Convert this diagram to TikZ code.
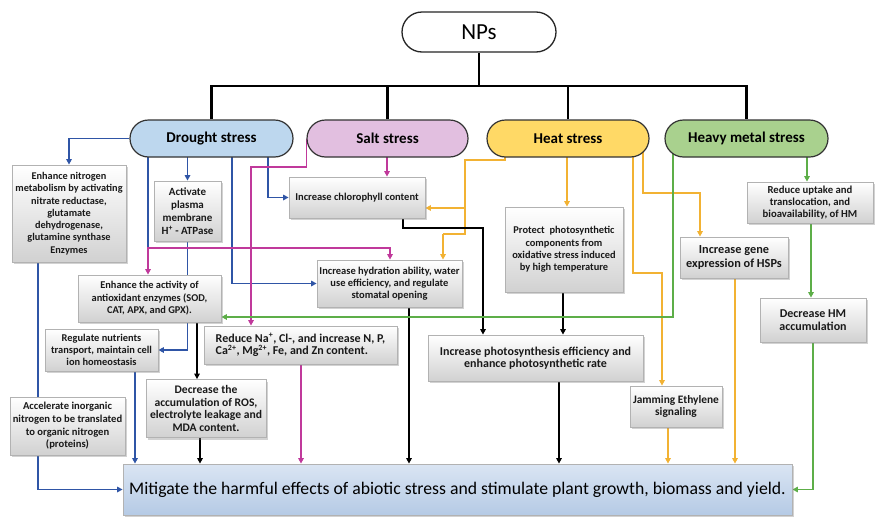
\documentclass[tikz,border=0pt]{standalone}
\usepackage{fontspec}
\setmainfont{Carlito}
\usetikzlibrary{arrows.meta,shadows,backgrounds}

\definecolor{lblue}{HTML}{2F55A6}
\definecolor{lpink}{HTML}{C0399B}
\definecolor{lorange}{HTML}{F2B233}
\definecolor{lgreen}{HTML}{5DAE48}
\definecolor{fdrought}{HTML}{BDD7EE}
\definecolor{fsalt}{HTML}{E2BFE0}
\definecolor{fheat}{HTML}{FFD966}
\definecolor{fhm}{HTML}{A9D18E}
\definecolor{mtop}{HTML}{DAE5F3}
\definecolor{mbot}{HTML}{B5CAE5}

\tikzset{
  npsbox/.style={draw=black!85, line width=1.3pt, fill=white, rounded corners=20pt,
    minimum width=154pt, minimum height=40pt, inner sep=0pt,
    font=\fontsize{23}{25}\selectfont},
  pill/.style={draw=black!80, line width=1.2pt, rounded corners=18.5pt,
    minimum height=37pt, inner sep=0pt,
    font=\fontsize{15}{17}\selectfont\bfseries},
  infobox/.style={draw=black!30, line width=0.8pt, top color=white, bottom color=black!18,
    drop shadow={shadow xshift=2pt, shadow yshift=-2pt, opacity=0.35},
    inner sep=1pt, align=center, text=black!90},
  fs/.style 2 args={font=\fontsize{#1}{#2}\selectfont\bfseries},
  mainbox/.style={draw=black!30, line width=0.8pt, top color=mtop, bottom color=mbot,
    drop shadow={shadow xshift=2pt, shadow yshift=-2pt, opacity=0.35},
    inner sep=0pt, font=\fontsize{17.7}{20}\selectfont},
  tip/.style={-{Triangle[length=5.5pt,width=5.5pt]}},
  tree/.style={line width=2.4pt, black},
  bl/.style={line width=1.8pt, lblue},
  pk/.style={line width=1.8pt, lpink},
  og/.style={line width=1.8pt, lorange},
  gn/.style={line width=1.8pt, lgreen},
  bk/.style={line width=2.1pt, black},
}

\begin{document}
\begin{tikzpicture}[x=1pt,y=-1pt]
\useasboundingbox (0,0) rectangle (884,517);
\begin{pgfonlayer}{background}
  \fill[white] (0,0) rectangle (884,517);
\end{pgfonlayer}

% root and the four stresses
\node[npsbox] (nps) at (479,32) {NPs};
\node[pill, fill=fdrought, minimum width=163pt] (drought) at (211.5,138.5) {Drought stress};
\node[pill, fill=fsalt, minimum width=161pt] (salt) at (387.5,138.5) {Salt stress};
\node[pill, fill=fheat, minimum width=162pt] (heat) at (568,138.5) {Heat stress};
\node[pill, fill=fhm, minimum width=163pt] (hm) at (746.5,138.5) {Heavy metal stress};

% effect boxes
\node[infobox, fs={10.3}{12.3}, minimum width=114pt, minimum height=97pt] (nitro) at (69,213.5)
  {Enhance nitrogen\\metabolism by activating\\nitrate reductase,\\glutamate\\dehydrogenase,\\glutamine synthase\\Enzymes};
\node[infobox, fs={11}{13}, minimum width=67pt, minimum height=60pt] (activ) at (187.5,211)
  {Activate\\plasma\\membrane\\H\textsuperscript{+} - ATPase};
\node[infobox, fs={10.5}{12.3}, minimum width=136pt, minimum height=41pt] (chloro) at (357,197.5)
  {Increase chlorophyll content};
\node[infobox, fs={10.5}{12.2}, minimum width=145pt, minimum height=47pt] (hydra) at (389.5,283.5)
  {Increase hydration ability, water\\use efficiency, and regulate\\stomatal opening};
\node[infobox, fs={10.4}{12.3}, minimum width=118pt, minimum height=85pt] (protect) at (564,249.5)
  {Protect\ \ photosynthetic\\components from\\oxidative stress induced\\by high temperature};
\node[infobox, fs={12.3}{13.3}, minimum width=108pt, minimum height=41pt] (hsp) at (734,257.5)
  {Increase gene\\expression of HSPs};
\node[infobox, fs={10.7}{12.3}, minimum width=126pt, minimum height=41pt] (uptake) at (810,202.5)
  {Reduce uptake and\\translocation, and\\bioavailability, of HM};
\node[infobox, fs={12}{13.3}, minimum width=106pt, minimum height=44pt] (dechm) at (813,320)
  {Decrease HM\\accumulation};
\node[infobox, fs={10.4}{12.5}, minimum width=143pt, minimum height=47pt] (antiox) at (149.5,298.5)
  {Enhance the activity of\\antioxidant enzymes (SOD,\\CAT, APX, and GPX).};
\node[infobox, fs={10.4}{12}, minimum width=113pt, minimum height=42pt] (regul) at (101.5,350)
  {Regulate nutrients\\transport, maintain cell\\ion homeostasis};
\node[infobox, fs={12}{12.5}, minimum width=193pt, minimum height=38pt, align=left] (reduce) at (300.5,345)
  {Reduce Na\textsuperscript{+}, Cl-, and increase N, P,\\Ca\textsuperscript{2+}, Mg\textsuperscript{2+}, Fe, and Zn content.};
\node[infobox, fs={11.6}{12.8}, minimum width=120pt, minimum height=58pt] (decros) at (206,408.5)
  {Decrease the\\accumulation of ROS,\\electrolyte leakage and\\MDA content.};
\node[infobox, fs={10.6}{12.7}, minimum width=115pt, minimum height=58pt] (accel) at (67.5,426)
  {Accelerate inorganic\\nitrogen to be translated\\to organic nitrogen\\(proteins)};
\node[infobox, fs={12}{12.5}, minimum width=215pt, minimum height=46pt] (photo) at (535.5,358)
  {Increase photosynthesis efficiency and\\enhance photosynthetic rate};
\node[infobox, fs={11.4}{12.5}, minimum width=92pt, minimum height=41pt] (jam) at (676,406.5)
  {Jamming Ethylene\\signaling};
\node[mainbox, minimum width=669pt, minimum height=51pt] (mitig) at (457.5,489.5)
  {Mitigate the harmful effects of abiotic stress and stimulate plant growth, biomass and yield.};

\begin{pgfonlayer}{background}
% tree from the root
\coordinate (bar) at (479,86);
\draw[tree] (nps.south) -- (nps.south |- bar);
\draw[tree] (drought.north) |- (746.5,86) -- (hm.north);
\draw[tree] (salt.north) -- (salt.north |- bar);
\draw[tree] (heat.north) -- (heat.north |- bar);

% drought stress
\draw[bl,tip] (drought.west) -| (nitro.north);
\draw[bl] (148,0 |- drought.center) -- (148,248);
\draw[bl,tip] (activ.north |- drought.center) -- (activ.north);
\draw[bl,tip] (232,0 |- drought.center) |- (hydra.west);
\draw[bl,tip] (268,0 |- drought.center) |- (chloro.west);
\draw[bl,tip] (activ.south) |- (regul.east);
\draw[bl] (38,0 |- nitro.south) -- (38,0 |- accel.north);
\draw[bl,tip] (38,0 |- accel.south) |- (mitig.west);
\draw[bl,tip] (135,0 |- regul.south) -- (135,0 |- mitig.north);
\draw[bk,tip] (197,0 |- antiox.south) -- (197,0 |- decros.north);
\draw[bk,tip] (200,0 |- decros.south) -- (200,0 |- mitig.north);

% salt stress
\draw[pk,tip] (387,0 |- salt.center) -- (387,0 |- chloro.north);
\draw[pk,tip] (salt.west) |- (251,167) -- (251,0 |- reduce.north);
\coordinate (pj) at (251,248);
\draw[pk,tip] (pj) -| (148,0 |- antiox.north);
\draw[pk,tip] (pj) -| (390,0 |- hydra.north);
\draw[pk,tip] (301,0 |- reduce.south) -- (301,0 |- mitig.north);

% heat stress
\draw[og] (505,0 |- heat.center) |- (465,160) -- (465,234) -- (443,234);
\draw[og,tip] (443,234) -- (443,0 |- hydra.north);
\draw[og,tip] (465,208) -- (chloro.east |- 465,208);
\draw[og,tip] (567,0 |- heat.center) -- (567,0 |- protect.north);
\draw[og,tip] (643,0 |- heat.center) |- (700,193) -- (700,0 |- hsp.north);
\draw[og,tip] (633,0 |- heat.center) |- (662,273) -- (662,0 |- jam.north);
\draw[og,tip] (735,0 |- hsp.south) -- (735,0 |- mitig.north);
\draw[og,tip] (668,0 |- jam.south) -- (668,0 |- mitig.north);

% photosynthesis chain
\draw[bk,tip] (403,0 |- chloro.south) |- (483,228) -- (483,0 |- photo.north);
\draw[bk,tip] (563,0 |- protect.south) -- (563,0 |- photo.north);
\draw[bk,tip] (409,0 |- hydra.south) -- (409,0 |- mitig.north);
\draw[bk,tip] (559,0 |- photo.south) -- (559,0 |- mitig.north);

% heavy metal stress
\draw[gn,tip] (673,0 |- hm.center) |- (antiox.east |- 673,317);
\draw[gn,tip] (807,0 |- hm.center) -- (807,0 |- uptake.north);
\draw[gn,tip] (811,0 |- uptake.south) -- (811,0 |- dechm.north);
\draw[gn,tip] (dechm.south) |- (mitig.east);
\end{pgfonlayer}
\end{tikzpicture}
\end{document}
